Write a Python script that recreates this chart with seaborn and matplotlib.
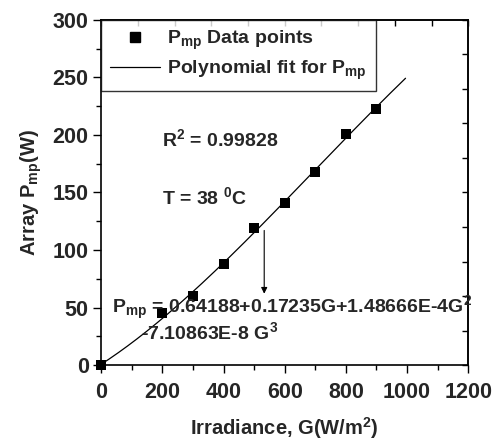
import matplotlib
matplotlib.use("Agg")
import matplotlib.pyplot as plt
import matplotlib.font_manager as fm
import numpy as np
import pandas as pd
import seaborn as sns
from matplotlib.lines import Line2D

# measured maximum power points
irradiance = [0, 200, 300, 400, 500, 600, 700, 800, 900]
pmp = [0, 45, 60, 88, 119, 141, 168, 201, 223]

# cubic fit reported in the figure (highest order first)
fit_coeffs = [-7.10863e-8, 1.48666e-4, 0.17235, 0.64188]
fit_range = (0, 995)

x_ticks = [0, 200, 400, 600, 800, 1000, 1200]
y_ticks = [0, 50, 100, 150, 200, 250, 300]

sns.set_theme(style="ticks")

family = "Liberation Sans"
try:
    fm.findfont(fm.FontProperties(family="Liberation Sans Narrow"), fallback_to_default=False)
    family = "Liberation Sans Narrow"
except ValueError:
    pass
plt.rcParams["font.family"] = [family, "DejaVu Sans"]
plt.rcParams["font.weight"] = "bold"
plt.rcParams["mathtext.fontset"] = "custom"
for k in ("rm", "it", "bf", "sf"):
    plt.rcParams["mathtext." + k] = family + ":bold"

df = pd.DataFrame({"G": irradiance, "P": pmp})
g_fit = np.linspace(fit_range[0], fit_range[1], 300)
df_fit = pd.DataFrame({"G": g_fit, "P": np.polyval(fit_coeffs, g_fit)})

fig = plt.figure(figsize=(4.96, 4.43), dpi=100)
ax = fig.add_axes([0.204, 0.176, 0.74, 0.779])

sns.lineplot(data=df_fit, x="G", y="P", color="black", lw=0.9, ax=ax)
sns.scatterplot(data=df, x="G", y="P", marker="s", s=60, color="black",
                edgecolor="black", linewidth=0, ax=ax, zorder=3, clip_on=False)

ax.set_xlim(0, 1200)
ax.set_ylim(0, 300)
ax.set_xticks(x_ticks)
ax.set_xticklabels([str(v) for v in x_ticks], fontsize=15.5, fontweight="bold")
ax.set_yticks(y_ticks)
ax.set_yticklabels([str(v) for v in y_ticks], fontsize=15.5, fontweight="bold")
ax.set_xticks(np.arange(100, 1200, 200), minor=True)
ax.set_yticks(np.arange(25, 300, 50), minor=True)
ax.tick_params(which="major", direction="out", length=6, width=1, color="black", pad=3)
ax.tick_params(axis="x", which="major", pad=6)
ax.tick_params(which="minor", direction="out", length=3.5, width=1, color="black")
for sp in ax.spines.values():
    sp.set_visible(True)
    sp.set_color("black")
    sp.set_linewidth(1.2)

# unlabeled mirror axes with their own spacing
top = ax.secondary_xaxis("top")
top.set_xticks(np.arange(0, 1201, 120))
top.set_xticklabels([])
top.tick_params(direction="in", length=4, width=1, color="black")
right = ax.secondary_yaxis("right")
right.set_yticks(np.arange(0, 301, 30))
right.set_yticklabels([])
right.tick_params(direction="in", length=4, width=1, color="black")

ax.set_xlabel(r"Irradiance, G(W/m$^{2}$)", fontsize=14.5, fontweight="bold", labelpad=9)
ax.set_ylabel(r"Array P$_{\rm mp}$(W)", fontsize=14.5, fontweight="bold", labelpad=6)

handles = [
    Line2D([], [], marker="s", ls="none", color="black", markersize=7),
    Line2D([], [], color="black", lw=0.9),
]
labels = [r"P$_{\rm mp}$ Data points", r"Polynomial fit for P$_{\rm mp}$"]
leg = ax.legend(handles, labels, loc="upper left", bbox_to_anchor=(0, 1),
                borderaxespad=0, frameon=True, fancybox=False, edgecolor="black",
                fontsize=14, handlelength=2.6, handletextpad=0.35,
                borderpad=0.45, labelspacing=0.35)
leg.get_frame().set_linewidth(1.0)
for t in leg.get_texts():
    t.set_fontweight("bold")

ax.text(200, 196, r"R$^{2}$ = 0.99828", fontsize=14, fontweight="bold", va="center")
ax.text(200, 146, r"T = 38 $^{0}$C", fontsize=14, fontweight="bold", va="center")
ax.text(35, 50, r"P$_{\rm mp}$ = 0.64188+0.17235G+1.48666E-4G$^{2}$",
        fontsize=14, fontweight="bold", va="center")
ax.text(130, 29, r"-7.10863E-8 G$^{3}$", fontsize=14, fontweight="bold", va="center")

ax.annotate("", xy=(533, 62), xytext=(533, 117),
            arrowprops=dict(arrowstyle="-|>", color="black", lw=0.8,
                            mutation_scale=9, shrinkA=0, shrinkB=0))

fig.savefig("out.png", dpi=100)
